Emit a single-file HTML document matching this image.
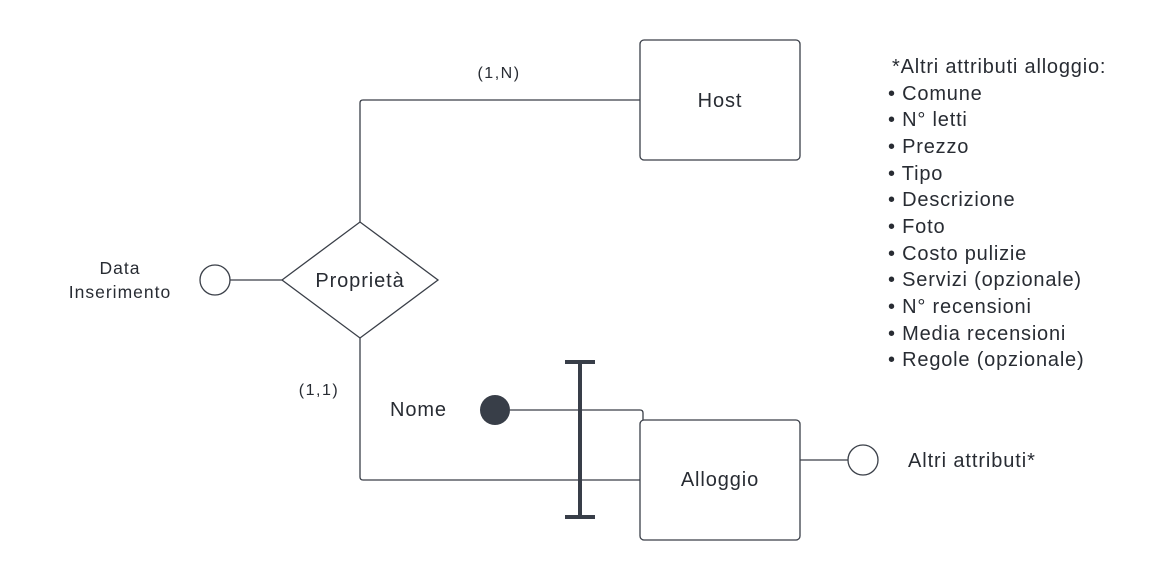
<!DOCTYPE html>
<html><head><meta charset="utf-8"><style>
body{margin:0;background:#fff;}
svg text{font-family:"Liberation Sans",sans-serif;fill:#282c33;}
</style></head><body>
<svg width="1160" height="580" viewBox="0 0 1160 580" xmlns="http://www.w3.org/2000/svg">
<g fill="none" stroke="#3a3f48" stroke-width="1.3">
<rect x="640" y="40" width="160" height="120" rx="4" fill="#fff"/>
<rect x="640" y="420" width="160" height="120" rx="4" fill="#fff"/>
<path d="M360 222 V103 Q360 100 363 100 H640"/>
<path d="M360 338 V477 Q360 480 363 480 H640"/>
<path d="M282 280 L360 222 L438 280 L360 338 Z" fill="#fff"/>
<circle cx="215" cy="280" r="15" fill="#fff"/>
<path d="M230 280 H282"/>
<path d="M510 410 H640 Q643 410 643 413 V420"/>
<path d="M800 460 H848"/>
<circle cx="863" cy="460" r="15" fill="#fff"/>
</g>
<circle cx="495" cy="410" r="15" fill="#383e48"/>
<g stroke="#383e48" stroke-width="4">
<path d="M580 362 V517"/><path d="M565 362 H595"/><path d="M565 517 H595"/>
</g>
<g font-size="20" text-anchor="middle" letter-spacing="0.9">
<text x="720" y="107">Host</text>
<text x="720" y="486">Alloggio</text>
<text x="360" y="287">Proprietà</text>
</g>
<g font-size="17.5" text-anchor="middle" letter-spacing="1">
<text x="120" y="274">Data</text>
<text x="120" y="298">Inserimento</text>
</g>
<text x="499" y="78" font-size="16" text-anchor="middle" letter-spacing="1.5">(1,N)</text>
<text x="319" y="395" font-size="16" text-anchor="middle" letter-spacing="1.5">(1,1)</text>
<text x="390" y="416" font-size="20" letter-spacing="0.9">Nome</text>
<text x="908" y="467" font-size="20" letter-spacing="0.9">Altri attributi*</text>
<g font-size="20" letter-spacing="0.8">
<text x="892" y="73">*Altri attributi alloggio:</text>
<text x="888" y="100">• Comune</text>
<text x="888" y="126">• N° letti</text>
<text x="888" y="153">• Prezzo</text>
<text x="888" y="180">• Tipo</text>
<text x="888" y="206">• Descrizione</text>
<text x="888" y="233">• Foto</text>
<text x="888" y="260">• Costo pulizie</text>
<text x="888" y="286">• Servizi (opzionale)</text>
<text x="888" y="313">• N° recensioni</text>
<text x="888" y="340">• Media recensioni</text>
<text x="888" y="366">• Regole (opzionale)</text>
</g>
</svg>
</body></html>
